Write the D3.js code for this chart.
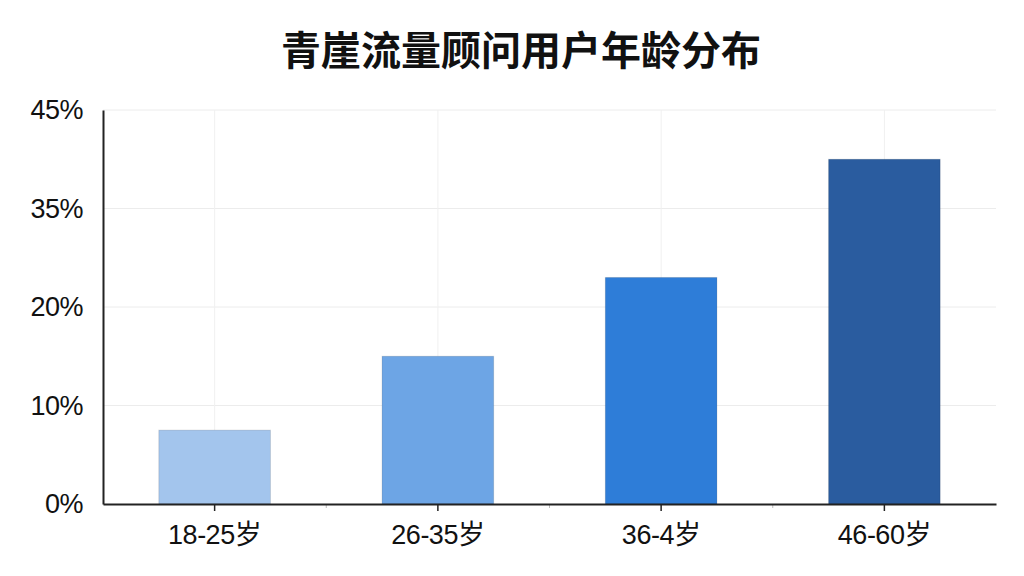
<!DOCTYPE html>
<html>
<head>
<meta charset="utf-8">
<script src="https://cdn.jsdelivr.net/npm/d3@7"></script>
<style>
  body { margin: 0; background: #fff; }
  svg { display: block; font-family: "Noto Sans CJK SC", "Noto Sans", sans-serif; }
</style>
</head>
<body>
<svg id="chart" width="1024" height="576"></svg>
<script>
(function() {
    'use strict';

    const title = '青崖流量顾问用户年龄分布';
    const ageGroups = ['18-25岁', '26-35岁', '36-4岁', '46-60岁'];
    const shares = [7.5, 15, 23, 35];
    const barColors = ['#a3c5ed', '#6da5e5', '#2e7dd8', '#2a5c9f'];
    const tickValues = [0, 10, 20, 30, 40];
    const tickLabels = ['0%', '10%', '20%', '35%', '45%'];

    const margin = { top: 110, right: 28, bottom: 72, left: 103 };
    const svg = d3.select('#chart');
    const width = 1024 - margin.left - margin.right;
    const height = 576 - margin.top - margin.bottom;

    svg.append('text')
        .attr('x', 521)
        .attr('y', 65)
        .attr('text-anchor', 'middle')
        .style('font-size', '40px')
        .style('font-weight', 'bold')
        .style('fill', '#111')
        .text(title);

    const g = svg.append('g')
        .attr('transform', `translate(${margin.left},${margin.top})`);

    const x = d3.scaleBand()
        .domain(ageGroups)
        .range([0, width])
        .paddingInner(0.5)
        .paddingOuter(0.25);

    const y = d3.scaleLinear()
        .domain([0, 40])
        .range([height, 0]);

    // horizontal grid
    g.append('g')
        .selectAll('line')
        .data(tickValues.slice(1))
        .enter()
        .append('line')
        .attr('x1', 0)
        .attr('x2', width)
        .attr('y1', d => y(d))
        .attr('y2', d => y(d))
        .attr('stroke', '#ececec')
        .attr('stroke-width', 1);

    // vertical grid at category centres
    g.append('g')
        .selectAll('line')
        .data(ageGroups)
        .enter()
        .append('line')
        .attr('x1', d => x(d) + x.bandwidth() / 2)
        .attr('x2', d => x(d) + x.bandwidth() / 2)
        .attr('y1', 0)
        .attr('y2', height)
        .attr('stroke', '#f0f0f0')
        .attr('stroke-width', 1);

    g.append('g')
        .selectAll('rect')
        .data(ageGroups)
        .enter()
        .append('rect')
        .attr('x', d => x(d))
        .attr('y', (d, i) => y(shares[i]))
        .attr('width', x.bandwidth())
        .attr('height', (d, i) => height - y(shares[i]))
        .attr('fill', (d, i) => barColors[i])
        .attr('stroke', 'rgba(0,0,0,0.12)')
        .attr('stroke-width', 1);

    // y axis
    const yAxis = g.append('g')
        .call(d3.axisLeft(y)
            .tickValues(tickValues)
            .tickSize(0)
            .tickPadding(20)
            .tickFormat((d, i) => tickLabels[i]));
    yAxis.select('.domain')
        .attr('stroke', '#222')
        .attr('stroke-width', 2);
    yAxis.selectAll('text')
        .style('font-size', '27px')
        .style('letter-spacing', '-0.5px')
        .style('font-family', '"Liberation Sans", Arial, sans-serif')
        .style('fill', '#111');

    // faint ticks at band edges
    g.append('g')
        .selectAll('line')
        .data(ageGroups.slice(1))
        .enter()
        .append('line')
        .attr('x1', d => x(d) - x.step() * x.paddingInner() / 2)
        .attr('x2', d => x(d) - x.step() * x.paddingInner() / 2)
        .attr('y1', height)
        .attr('y2', height + 4)
        .attr('stroke', '#bbb')
        .attr('stroke-width', 1);

    // x axis
    const xAxis = g.append('g')
        .attr('transform', `translate(0,${height})`)
        .call(d3.axisBottom(x)
            .tickSize(7)
            .tickSizeOuter(0)
            .tickPadding(14));
    xAxis.select('.domain')
        .attr('stroke', '#222')
        .attr('stroke-width', 2);
    xAxis.selectAll('.tick line')
        .attr('stroke', '#222')
        .attr('stroke-width', 1.5);
    xAxis.selectAll('text')
        .style('font-size', '27px')
        .style('letter-spacing', '-0.5px')
        .style('font-family', '"Liberation Sans", "Noto Sans CJK SC", sans-serif')
        .style('fill', '#111');
})();
</script>
</body>
</html>
